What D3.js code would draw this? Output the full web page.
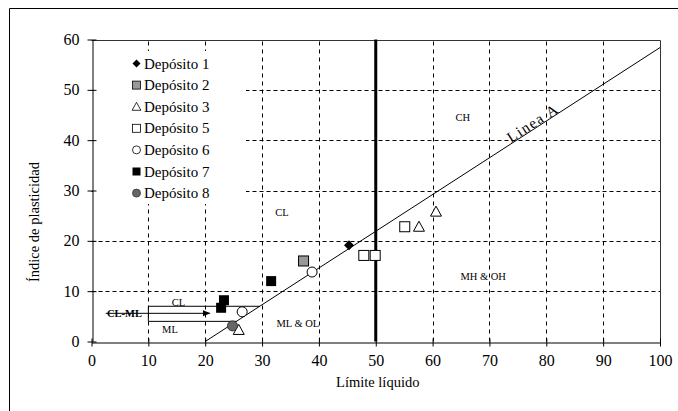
<!DOCTYPE html>
<html><head><meta charset="utf-8">
<script src="https://cdn.jsdelivr.net/npm/d3@7"></script>
<style>body{margin:0;background:#fff}svg{display:block}</style>
</head><body>
<script>
const xTicks = [0,10,20,30,40,50,60,70,80,90,100];
const yTicks = [0,10,20,30,40,50,60];
const seriesNames = ["Depósito 1","Depósito 2","Depósito 3","Depósito 5","Depósito 6","Depósito 7","Depósito 8"];
const dep1 = [[45.3,19.1]];
const dep2 = [[37.3,16.0]];
const dep3 = [[60.6,25.8],[57.6,22.8],[25.9,2.3]];
const dep5 = [[55.1,22.8],[47.9,17.1],[49.9,17.1]];
const dep6 = [[38.8,13.8],[26.5,5.9]];
const dep7 = [[31.6,12.0],[23.3,8.2],[22.8,6.7]];
const dep8 = [[24.8,3.1]];
const lineA = [[20,0],[100,58.4]];
const uLineTop = [[10,7],[29.6,7]];
const uLineBottom = [[10,4],[25.5,4]];
const regionLabels = [["CL",33.5,25.7],["CH",65.3,44.6],["MH & OH",68.9,13.0],["ML & OL",36.3,3.6],["CL",15.3,7.7],["ML",13.8,2.3]];

const W=678,H=411;
const svg=d3.select("body").append("svg").attr("width",W).attr("height",H);
const x=d3.scaleLinear().domain([0,100]).range([91.5,660]);
const y=d3.scaleLinear().domain([0,60]).range([341.5,39.5]);
const serif="'Liberation Serif','Times New Roman',serif";

// outer frame
svg.append("path").attr("d","M9.5,411V8.5H678").attr("fill","none").attr("stroke","#000");

// grid
const g=svg.append("g");
g.selectAll(".vg").data(xTicks.filter(d=>d>0&&d<100&&d!==50)).join("line")
 .attr("x1",d=>Math.round(x(d))+0.5).attr("x2",d=>Math.round(x(d))+0.5).attr("y1",y(0)).attr("y2",y(60))
 .attr("stroke","#000").attr("stroke-dasharray","4,4");
g.selectAll(".hg").data(yTicks.filter(d=>d>0&&d<60)).join("line")
 .attr("x1",x(0)).attr("x2",x(100)).attr("y1",d=>Math.round(y(d))+0.5).attr("y2",d=>Math.round(y(d))+0.5)
 .attr("stroke","#000").attr("stroke-dasharray","4,3");

// legend background covering grid
svg.append("rect").attr("x",93).attr("y",51).attr("width",153).attr("height",153).attr("fill","#fff");

// plot border top/right
svg.append("path").attr("d",`M${x(0)},${Math.round(y(60))+0.5}H${Math.round(x(100))+0.5}V${y(0)}`).attr("fill","none").attr("stroke","#333");

// axes
const xAxis=d3.axisBottom(x).tickValues(xTicks).tickSize(0).tickPadding(12);
const ax=svg.append("g").attr("transform",`translate(0,${Math.round(y(0))+0.5})`).call(xAxis);
ax.select(".domain").attr("stroke","#000");
ax.selectAll(".tick line").attr("y1",-4).attr("y2",4).attr("stroke","#000");
ax.selectAll("text").attr("font-family",serif).attr("font-size",16).attr("fill","#000");
const yAxis=d3.axisLeft(y).tickValues(yTicks).tickSize(0).tickPadding(13);
const ay=svg.append("g").attr("transform",`translate(${Math.round(x(0))+0.5},0)`).call(yAxis);
ay.select(".domain").attr("stroke","#000");
ay.selectAll(".tick line").attr("x1",-5).attr("x2",4).attr("stroke","#000");
ay.selectAll("text").attr("font-family",serif).attr("font-size",16).attr("fill","#000");

// axis titles
svg.append("text").attr("x",(x(0)+x(100))/2+2).attr("y",387).attr("text-anchor","middle")
 .attr("font-family",serif).attr("font-size",14.5).text("Límite líquido");
svg.append("text").attr("transform",`translate(39,222) rotate(-90)`).attr("text-anchor","middle")
 .attr("font-family",serif).attr("font-size",14.5).text("Índice de plasticidad");

// line A, 50 line, U zone
const line=d3.line().x(d=>x(d[0])).y(d=>y(d[1]));
svg.append("path").attr("d",line(lineA)).attr("stroke","#000").attr("fill","none");
svg.append("line").attr("x1",x(50)).attr("x2",x(50)).attr("y1",y(0)).attr("y2",y(60)).attr("stroke","#000").attr("stroke-width",3);
svg.append("path").attr("d",line(uLineTop)).attr("stroke","#000").attr("fill","none");
svg.append("path").attr("d",line(uLineBottom)).attr("stroke","#000").attr("fill","none");
svg.append("path").attr("d",line([uLineTop[0],uLineBottom[0]])).attr("stroke","#000").attr("fill","none");
// arrow
svg.append("defs").append("marker").attr("id","ah").attr("viewBox","0 0 10 10").attr("refX",9).attr("refY",5)
 .attr("markerWidth",8).attr("markerHeight",8).attr("orient","auto").attr("markerUnits","userSpaceOnUse")
 .append("path").attr("d","M0,1L10,5L0,9Z").attr("fill","#000");
svg.append("path").attr("d",line([[2.5,5.6],[20.8,5.6]])).attr("stroke","#000").attr("fill","none").attr("marker-end","url(#ah)");
svg.append("text").attr("x",x(5.8)).attr("y",y(5.6)+3.5).attr("text-anchor","middle")
 .attr("font-family",serif).attr("font-size",10.5).attr("font-weight","bold").text("CL-ML");

// region labels
svg.selectAll(".rl").data(regionLabels).join("text").attr("x",d=>x(d[1])).attr("y",d=>y(d[2])+3.5)
 .attr("text-anchor","middle").attr("font-family",serif).attr("font-size",10.5).text(d=>d[0]);

// Linea A label
const ang=Math.atan2(y(58.4)-y(0),x(100)-x(20))*180/Math.PI;
svg.append("text").attr("transform",`translate(${x(78.1)},${y(43.4)+4}) rotate(${ang})`).attr("text-anchor","middle")
 .attr("font-family",serif).attr("font-size",15).attr("letter-spacing",1.5).text("Linea A");

// markers
function drawMarker(sel,type){
  if(type==="diamond") sel.append("path").attr("d","M0,-5L5,0L0,5L-5,0Z").attr("fill","#000");
  if(type==="sqGray") sel.append("rect").attr("x",-5).attr("y",-5).attr("width",10).attr("height",10).attr("fill","#999").attr("stroke","#000");
  if(type==="tri") sel.append("path").attr("d","M0,-5.5L5.5,4.5L-5.5,4.5Z").attr("fill","#fff").attr("stroke","#000");
  if(type==="sqOpen") sel.append("rect").attr("x",-5).attr("y",-5).attr("width",10).attr("height",10).attr("fill","#fff").attr("stroke","#000");
  if(type==="circOpen") sel.append("circle").attr("r",5).attr("fill","#fff").attr("stroke","#000");
  if(type==="sqBlack") sel.append("rect").attr("x",-5).attr("y",-5).attr("width",10).attr("height",10).attr("fill","#000");
  if(type==="circGray") sel.append("circle").attr("r",5).attr("fill","#666").attr("stroke","#333");
}
const types=["diamond","sqGray","tri","sqOpen","circOpen","sqBlack","circGray"];
const allSeries=[dep1,dep2,dep3,dep5,dep6,dep7,dep8];
allSeries.forEach((s,i)=>{
  svg.selectAll(null).data(s).join("g").attr("transform",d=>`translate(${x(d[0])},${y(d[1])})`).each(function(){drawMarker(d3.select(this),types[i]);});
});

// legend
const lg=svg.append("g");
seriesNames.forEach((n,i)=>{
  const yy=63.5+i*21.6;
  const m=lg.append("g").attr("transform",`translate(136.5,${yy}) scale(0.8)`);
  drawMarker(m,types[i]);
  lg.append("text").attr("x",144).attr("y",yy+5).attr("font-family",serif).attr("font-size",15).text(n);
});
</script>
</body></html>
